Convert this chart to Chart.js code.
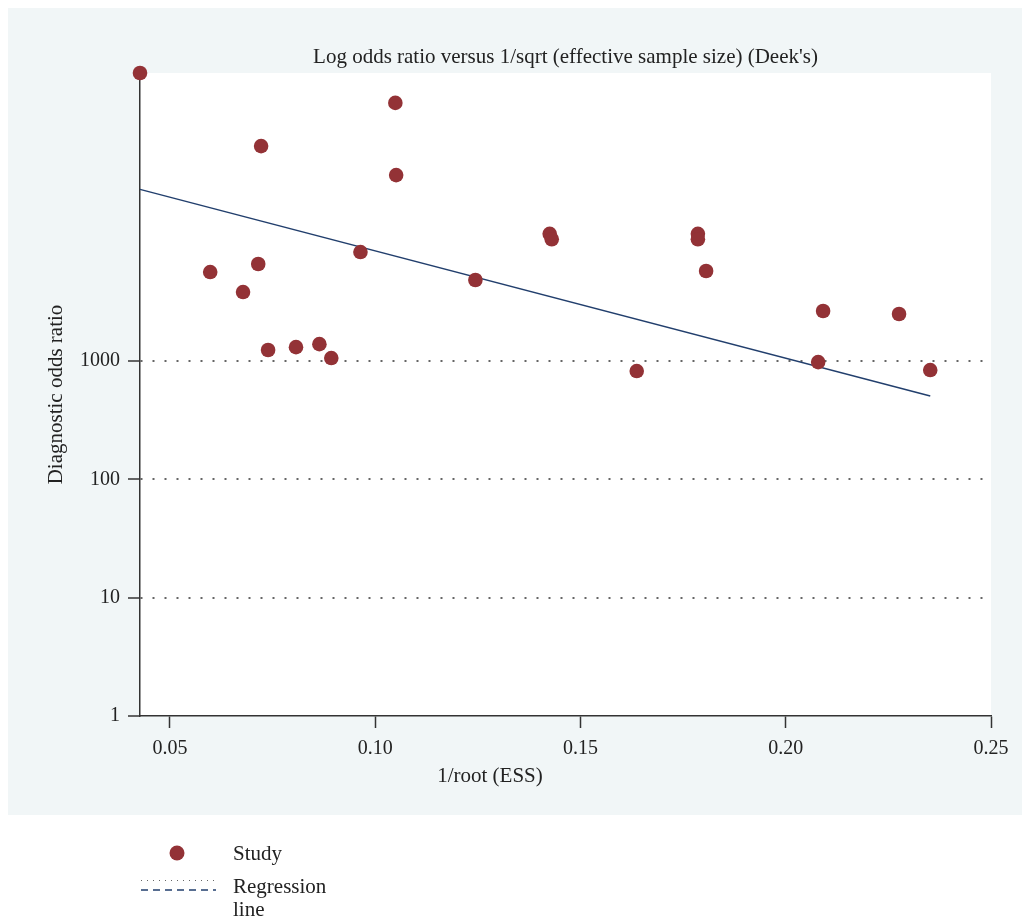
<!DOCTYPE html>
<html>
<head>
<meta charset="utf-8">
<script src="https://cdn.jsdelivr.net/npm/chart.js@4.4.1/dist/chart.umd.min.js"></script>
<style>
  html, body { margin: 0; padding: 0; background: #fff; }
  #wrap { width: 1030px; height: 919px; }
</style>
</head>
<body>
<div id="wrap"><canvas id="deeks" width="1030" height="919"></canvas></div>
<script>
// Deeks' funnel plot: each study's DOR against 1/sqrt(effective sample size)
const studyX = [0.0427, 0.0598, 0.0678, 0.0715, 0.0722, 0.0739, 0.0807, 0.0864, 0.0893, 0.0964,
                0.1049, 0.1051, 0.1244, 0.1425, 0.1430, 0.1637, 0.1786, 0.1786, 0.1806, 0.2079,
                0.2091, 0.2276, 0.2352];
const studyDOR = [272000, 5650, 3830, 6610, 65600, 1240, 1310, 1390, 1060, 8340,
                  152000, 37300, 4840, 11900, 10700, 823, 11900, 10700, 5770, 980,
                  2650, 2500, 839];

// fitted regression line end points
const regX = [0.0427, 0.2352];
const regDOR = [28250, 506];

const yTickValues = [1, 10, 100, 1000];
const xTickValues = [0.05, 0.10, 0.15, 0.20, 0.25];

const SERIF = "'Liberation Serif', 'DejaVu Serif', serif";
const INK = '#222';
const AXIS = '#333';
const DOT_RED = '#933236';
const LINE_BLUE = '#223f6d';

Chart.defaults.font.family = SERIF;
Chart.defaults.color = INK;

const panelPlugin = {
    id: 'panel',
    beforeDraw(chart) {
        const ctx = chart.ctx, a = chart.chartArea;
        ctx.save();
        ctx.fillStyle = '#f1f6f7';
        ctx.fillRect(8, 8, 1014, 807);
        ctx.fillStyle = '#ffffff';
        ctx.fillRect(a.left, a.top, a.right - a.left, a.bottom - a.top);
        ctx.restore();
    },
    afterDraw(chart) {
        const ctx = chart.ctx, a = chart.chartArea;
        ctx.save();
        ctx.font = '21px ' + SERIF;
        ctx.fillStyle = INK;
        ctx.textBaseline = 'middle';
        ctx.textAlign = 'center';
        // titles: the main one sits centred over the plot region
        ctx.fillText("Log odds ratio versus 1/sqrt (effective sample size) (Deek's)", (a.left + a.right) / 2, 57);
        ctx.fillText('1/root (ESS)', 490, 776);

        // legend under the panel
        ctx.textAlign = 'left';
        ctx.fillStyle = DOT_RED;
        ctx.beginPath();
        ctx.arc(177, 853, 7.5, 0, Math.PI * 2);
        ctx.fill();
        ctx.fillStyle = INK;
        ctx.fillText('Study', 233, 854);

        ctx.lineWidth = 1;
        ctx.strokeStyle = '#666';
        ctx.setLineDash([1, 5]);
        ctx.beginPath();
        ctx.moveTo(141, 880.5);
        ctx.lineTo(216, 880.5);
        ctx.stroke();

        ctx.lineWidth = 1.5;
        ctx.strokeStyle = LINE_BLUE;
        ctx.setLineDash([7, 5]);
        ctx.beginPath();
        ctx.moveTo(141, 890);
        ctx.lineTo(216, 890);
        ctx.stroke();

        ctx.fillText('Regression', 233, 887);
        ctx.fillText('line', 233, 910);
        ctx.restore();
    }
};

new Chart(document.getElementById('deeks'), {
    type: 'scatter',
    data: {
        datasets: [
            {
                label: 'Study',
                data: studyX.map((x, i) => ({ x: x, y: studyDOR[i] })),
                pointRadius: 7.3,
                pointHoverRadius: 7.3,
                backgroundColor: DOT_RED,
                borderWidth: 0,
                clip: false
            },
            {
                type: 'line',
                label: 'Regression line',
                data: regX.map((x, i) => ({ x: x, y: regDOR[i] })),
                borderColor: LINE_BLUE,
                borderWidth: 1.5,
                pointRadius: 0,
                fill: false,
                tension: 0,
                clip: false
            }
        ]
    },
    options: {
        responsive: false,
        animation: false,
        layout: { padding: { left: 0, top: 73, right: 39, bottom: 123 } },
        plugins: {
            legend: { display: false },
            tooltip: { enabled: false },
            title: { display: false }
        },
        scales: {
            x: {
                type: 'linear',
                min: 0.0427,
                max: 0.25,
                afterBuildTicks: s => { s.ticks = xTickValues.map(v => ({ value: v })); },
                afterFit: s => { s.height = 80; },
                ticks: {
                    callback: v => v.toFixed(2),
                    font: { size: 20 },
                    color: INK,
                    padding: 9,
                    maxRotation: 0,
                    autoSkip: false
                },
                grid: {
                    drawOnChartArea: false,
                    tickLength: 12,
                    tickColor: AXIS,
                    tickWidth: 1.5
                },
                border: { display: true, color: AXIS, width: 1.5 },
                title: { display: false }
            },
            y: {
                type: 'logarithmic',
                min: 1,
                max: 272000,
                afterBuildTicks: s => { s.ticks = yTickValues.map(v => ({ value: v })); },
                afterFit: s => { s.width = 140; },
                ticks: {
                    callback: v => String(v),
                    font: { size: 20 },
                    color: INK,
                    padding: 8,
                    autoSkip: false
                },
                grid: {
                    color: c => (c.tick && c.tick.value === 1) ? 'rgba(0,0,0,0)' : '#666',
                    lineWidth: 2,
                    tickLength: 12,
                    tickColor: AXIS,
                    tickWidth: 1.5
                },
                border: { display: true, color: AXIS, width: 1.5, dash: [2, 10] },
                title: {
                    display: true,
                    text: 'Diagnostic odds ratio',
                    color: INK,
                    font: { size: 21 },
                    padding: { top: 44, bottom: 0 }
                }
            }
        }
    },
    plugins: [panelPlugin]
});
</script>
</body>
</html>
